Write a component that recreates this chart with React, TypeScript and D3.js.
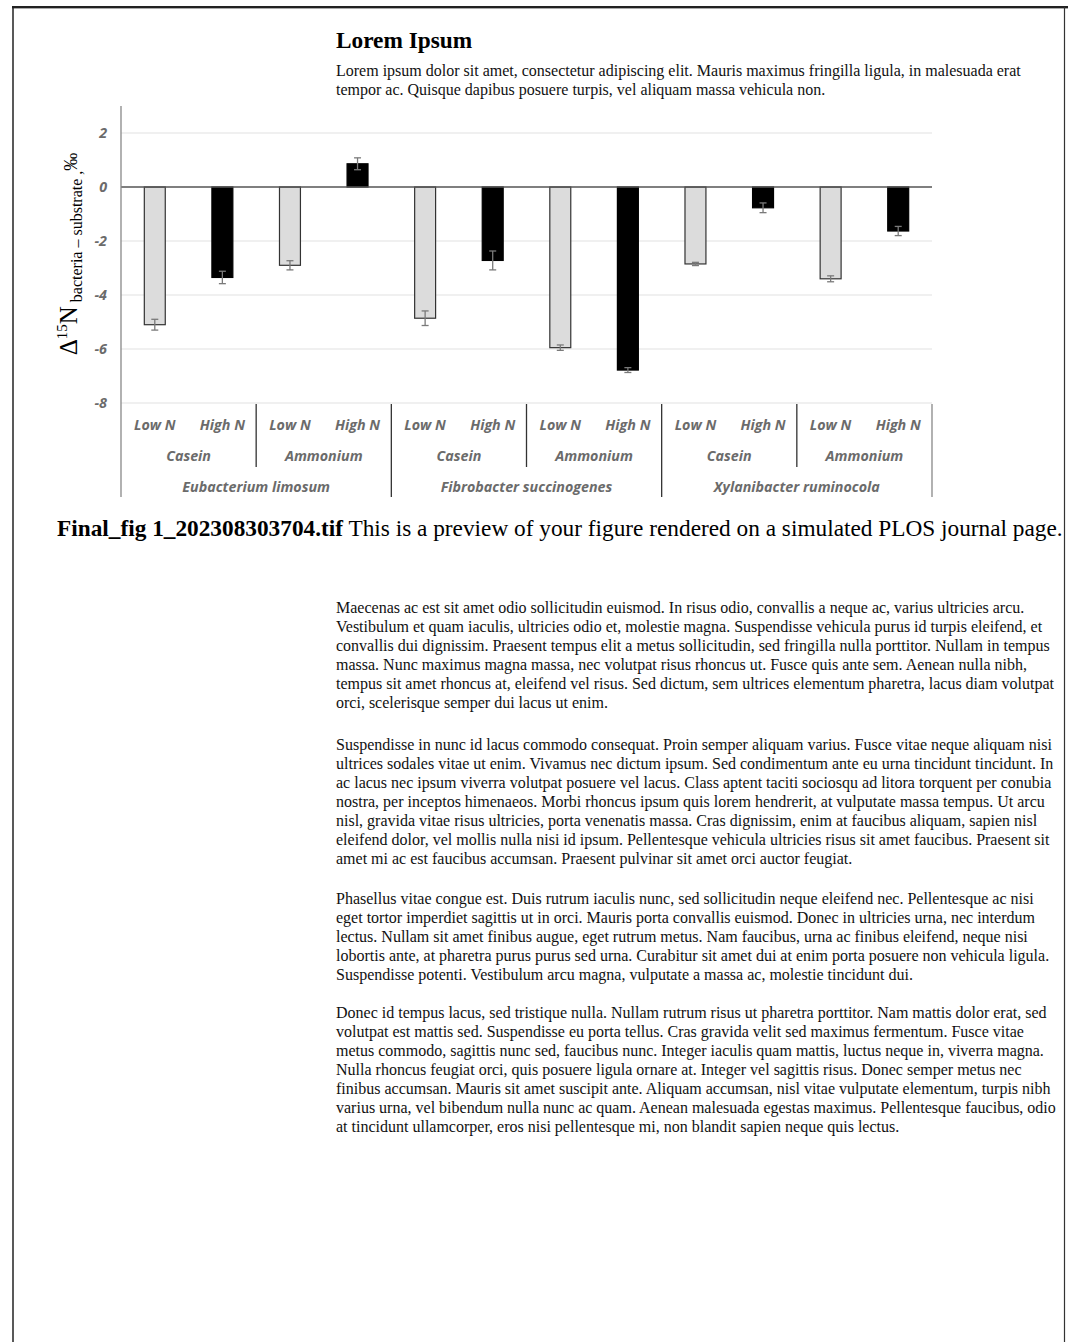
import React from "react";
import * as d3 from "d3";

const species = ["Eubacterium limosum", "Fibrobacter succinogenes", "Xylanibacter ruminocola"];
const substrates = ["Casein", "Ammonium"];
const levels = ["Low N", "High N"];
const values = [-5.1, -3.35, -2.9, 0.86, -4.86, -2.72, -5.95, -6.78, -2.85, -0.77, -3.4, -1.63];
const errors = [0.2, 0.23, 0.17, 0.22, 0.27, 0.35, 0.1, 0.09, 0.06, 0.18, 0.11, 0.17];
const yTicks = [-8, -6, -4, -2, 0, 2];

const titleText = "Lorem Ipsum";
const subtitleLines = [
  "Lorem ipsum dolor sit amet, consectetur adipiscing elit. Mauris maximus fringilla ligula, in malesuada erat",
  "tempor ac. Quisque dapibus posuere turpis, vel aliquam massa vehicula non.",
];
const captionBold = "Final_fig 1_202308303704.tif";
const captionRest = " This is a preview of your figure rendered on a simulated PLOS journal page.";
const paragraphs = [
  [
    "Maecenas ac est sit amet odio sollicitudin euismod. In risus odio, convallis a neque ac, varius ultricies arcu.",
    "Vestibulum et quam iaculis, ultricies odio et, molestie magna. Suspendisse vehicula purus id turpis eleifend, et",
    "convallis dui dignissim. Praesent tempus elit a metus sollicitudin, sed fringilla nulla porttitor. Nullam in tempus",
    "massa. Nunc maximus magna massa, nec volutpat risus rhoncus ut. Fusce quis ante sem. Aenean nulla nibh,",
    "tempus sit amet rhoncus at, eleifend vel risus. Sed dictum, sem ultrices elementum pharetra, lacus diam volutpat",
    "orci, scelerisque semper dui lacus ut enim.",
  ],
  [
    "Suspendisse in nunc id lacus commodo consequat. Proin semper aliquam varius. Fusce vitae neque aliquam nisi",
    "ultrices sodales vitae ut enim. Vivamus nec dictum ipsum. Sed condimentum ante eu urna tincidunt tincidunt. In",
    "ac lacus nec ipsum viverra volutpat posuere vel lacus. Class aptent taciti sociosqu ad litora torquent per conubia",
    "nostra, per inceptos himenaeos. Morbi rhoncus ipsum quis lorem hendrerit, at vulputate massa tempus. Ut arcu",
    "nisl, gravida vitae risus ultricies, porta venenatis massa. Cras dignissim, enim at faucibus aliquam, sapien nisl",
    "eleifend dolor, vel mollis nulla nisi id ipsum. Pellentesque vehicula ultricies risus sit amet faucibus. Praesent sit",
    "amet mi ac est faucibus accumsan. Praesent pulvinar sit amet orci auctor feugiat.",
  ],
  [
    "Phasellus vitae congue est. Duis rutrum iaculis nunc, sed sollicitudin neque eleifend nec. Pellentesque ac nisi",
    "eget tortor imperdiet sagittis ut in orci. Mauris porta convallis euismod. Donec in ultricies urna, nec interdum",
    "lectus. Nullam sit amet finibus augue, eget rutrum metus. Nam faucibus, urna ac finibus eleifend, neque nisi",
    "lobortis ante, at pharetra purus purus sed urna. Curabitur sit amet dui at enim porta posuere non vehicula ligula.",
    "Suspendisse potenti. Vestibulum arcu magna, vulputate a massa ac, molestie tincidunt dui.",
  ],
  [
    "Donec id tempus lacus, sed tristique nulla. Nullam rutrum risus ut pharetra porttitor. Nam mattis dolor erat, sed",
    "volutpat est mattis sed. Suspendisse eu porta tellus. Cras gravida velit sed maximus fermentum. Fusce vitae",
    "metus commodo, sagittis nunc sed, faucibus nunc. Integer iaculis quam mattis, luctus neque in, viverra magna.",
    "Nulla rhoncus feugiat orci, quis posuere ligula ornare at. Integer vel sagittis risus. Donec semper metus nec",
    "finibus accumsan. Mauris sit amet suscipit ante. Aliquam accumsan, nisl vitae vulputate elementum, turpis nibh",
    "varius urna, vel bibendum nulla nunc ac quam. Aenean malesuada egestas maximus. Pellentesque faucibus, odio",
    "at tincidunt ullamcorper, eros nisi pellentesque mi, non blandit sapien neque quis lectus.",
  ],
];
const paragraphStarts = [613, 750, 904, 1018];

const SERIF = "'Liberation Serif', 'Times New Roman', Times, serif";
const SANS = "'Open Sans', Lato, sans-serif";

export default function App() {
  const W = 1068;
  const H = 1342;
  const left = 121;
  const right = 932;
  const cats = d3.range(values.length);
  const x = d3.scaleBand<number>().domain(cats).range([left, right]).padding(0);
  const y = d3.scaleLinear().domain([-8, 3]).range([403, 106]);
  const bw = x.bandwidth() * 0.31;
  const pairW = x.bandwidth() * 2;
  const speciesW = x.bandwidth() * 4;
  const tickColor = "#6b6b6b";
  const catFont = 14.3;

  return (
    <svg
      width={W}
      height={H}
      style={{ position: "absolute", left: 0, top: 0, background: "#fff" }}
      xmlns="http://www.w3.org/2000/svg"
    >
      <rect x={0} y={0} width={W} height={H} fill="#fff" />
      {/* page frame */}
      <line x1={12} x2={W} y1={7} y2={7} stroke="#222" strokeWidth={2} />
      <line x1={12} x2={W} y1={8.5} y2={8.5} stroke="#aaa" strokeWidth={1} />
      <line x1={13} x2={13} y1={7} y2={H} stroke="#222" strokeWidth={1.5} />
      <line x1={1064.5} x2={1064.5} y1={7} y2={H} stroke="#333" strokeWidth={1.2} />

      {/* title */}
      <text x={336} y={48} fontFamily={SERIF} fontWeight="bold" fontSize={23.3} fill="#000">
        {titleText}
      </text>
      {subtitleLines.map((l, i) => (
        <text key={i} x={336} y={76 + i * 19} fontFamily={SERIF} fontSize={16} fill="#111">
          {l}
        </text>
      ))}

      {/* grid */}
      {yTicks.filter((t) => t !== 0).map((t) => (
        <line key={t} x1={left} x2={right} y1={y(t)} y2={y(t)} stroke="#e2e2e2" strokeWidth={1.2} />
      ))}
      {yTicks.map((t) => (
        <text
          key={"t" + t}
          x={107}
          y={y(t) + 5}
          textAnchor="end"
          fontFamily={SANS}
          fontStyle="italic"
          fontWeight="bold"
          fontSize={catFont}
          fill={tickColor}
        >
          {t}
        </text>
      ))}

      {/* bars */}
      {values.map((v, i) => {
        const cx = (x(i) as number) + x.bandwidth() / 2;
        const y0 = y(0);
        const yv = y(v);
        const light = i % 2 === 0;
        return (
          <rect
            key={i}
            x={cx - bw / 2}
            y={Math.min(y0, yv)}
            width={bw}
            height={Math.abs(yv - y0)}
            fill={light ? "#dcdcdc" : "#000"}
            stroke={light ? "#333" : "#000"}
            strokeWidth={1.2}
          />
        );
      })}
      {/* zero line */}
      <line x1={left} x2={right} y1={y(0)} y2={y(0)} stroke="#555" strokeWidth={1.4} />
      {/* error bars */}
      {values.map((v, i) => {
        const cx = (x(i) as number) + x.bandwidth() / 2;
        const e = errors[i];
        return (
          <g key={"e" + i} stroke="#7a7a7a" strokeWidth={1.3}>
            <line x1={cx} x2={cx} y1={y(v - e)} y2={y(v + e)} />
            <line x1={cx - 3.5} x2={cx + 3.5} y1={y(v - e)} y2={y(v - e)} />
            <line x1={cx - 3.5} x2={cx + 3.5} y1={y(v + e)} y2={y(v + e)} />
          </g>
        );
      })}

      {/* y axis line */}
      <line x1={left} x2={left} y1={106} y2={497} stroke="#888" strokeWidth={1.3} />

      {/* category separators */}
      {d3.range(1, 7).map((k) => {
        const xx = left + k * pairW;
        const isSpecies = k % 2 === 0;
        return (
          <line
            key={"s" + k}
            x1={xx}
            x2={xx}
            y1={404}
            y2={isSpecies ? 497 : 467}
            stroke={k === 6 ? "#888" : "#333"}
            strokeWidth={1.3}
          />
        );
      })}

      {/* level labels */}
      {values.map((_, i) => (
        <text
          key={"l" + i}
          x={(x(i) as number) + x.bandwidth() / 2}
          y={430}
          textAnchor="middle"
          fontFamily={SANS}
          fontStyle="italic"
          fontWeight="bold"
          fontSize={catFont}
          fill={tickColor}
        >
          {levels[i % 2]}
        </text>
      ))}
      {d3.range(6).map((k) => (
        <text
          key={"p" + k}
          x={left + k * pairW + pairW / 2}
          y={461}
          textAnchor="middle"
          fontFamily={SANS}
          fontStyle="italic"
          fontWeight="bold"
          fontSize={catFont}
          fill={tickColor}
        >
          {substrates[k % 2]}
        </text>
      ))}
      {species.map((s, k) => (
        <text
          key={"sp" + k}
          x={left + k * speciesW + speciesW / 2}
          y={492}
          textAnchor="middle"
          fontFamily={SANS}
          fontStyle="italic"
          fontWeight="bold"
          fontSize={catFont}
          fill={tickColor}
        >
          {s}
        </text>
      ))}

      {/* y axis title */}
      <text
        transform="translate(77, 254) rotate(-90)"
        textAnchor="middle"
        fontFamily={SERIF}
        fill="#000"
      >
        <tspan fontSize={25}>Δ</tspan>
        <tspan fontSize={15} dy={-10}>15</tspan>
        <tspan fontSize={25} dy={10}>N</tspan>
        <tspan fontSize={16} dy={5}> bacteria – substrate ,</tspan>
        <tspan fontSize={18} dy={-5}>‰</tspan>
      </text>

      {/* caption */}
      <text x={57} y={536} fontFamily={SERIF} fontSize={23.3} fill="#000">
        <tspan fontWeight="bold">{captionBold}</tspan>
        <tspan>{captionRest}</tspan>
      </text>

      {/* body paragraphs */}
      {paragraphs.map((p, pi) =>
        p.map((l, li) => (
          <text
            key={pi + "-" + li}
            x={336}
            y={paragraphStarts[pi] + li * 19}
            fontFamily={SERIF}
            fontSize={16}
            fill="#111"
          >
            {l}
          </text>
        ))
      )}
    </svg>
  );
}
